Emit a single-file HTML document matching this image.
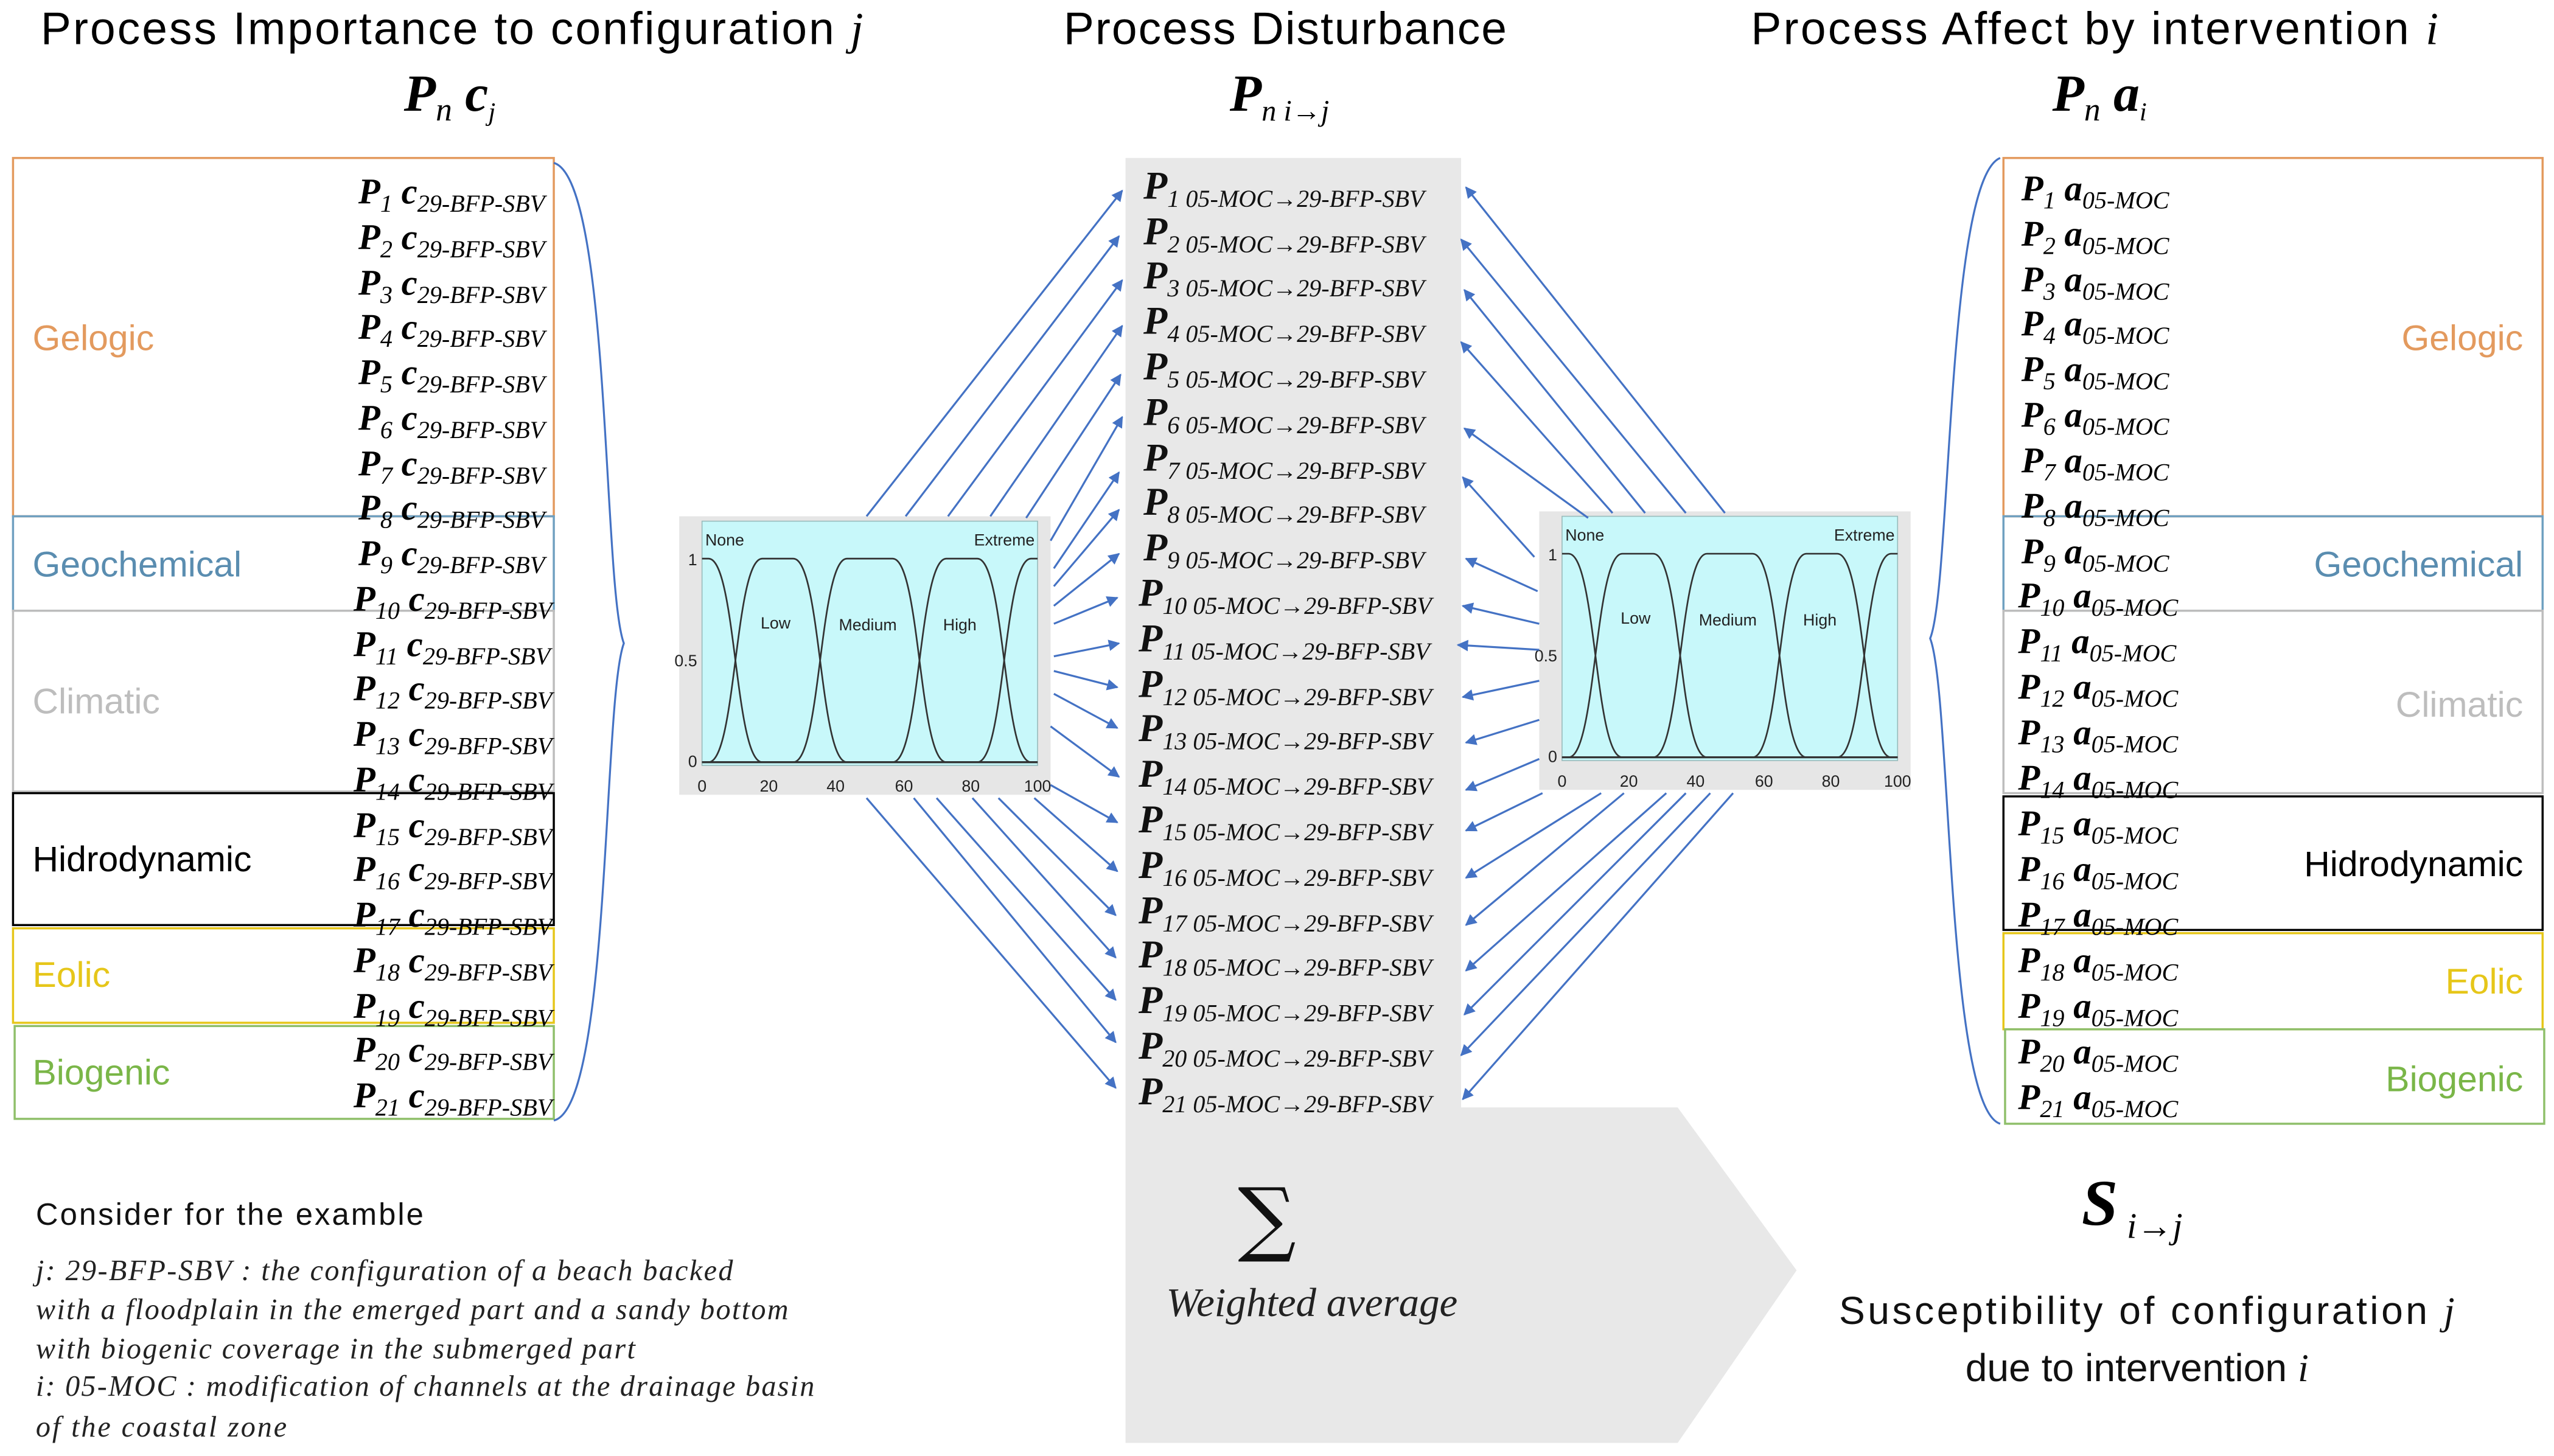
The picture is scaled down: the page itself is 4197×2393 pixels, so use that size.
<!DOCTYPE html>
<html><head><meta charset="utf-8"><style>
html,body{margin:0;padding:0;background:#fff}
svg{display:block}
.ti{font-family:"Liberation Sans",sans-serif;font-size:28px;fill:#000}
.lab{font-family:"Liberation Sans",sans-serif;font-size:22px}
.r{font-family:"Liberation Serif",serif;font-style:italic;font-weight:bold;font-size:22px;fill:#000}
.r .s{font-size:15px;font-weight:normal}
.m{font-family:"Liberation Serif",serif;font-style:italic;font-size:24px;fill:#111;font-weight:bold}
.m .s{font-size:15px;font-weight:normal}
.ck{font-family:"Liberation Sans",sans-serif;font-size:10px;fill:#222}
.ar line{stroke:#4472c4;stroke-width:1.2;marker-end:url(#ah)}
.it{font-family:"Liberation Serif",serif;font-style:italic;font-size:18px;fill:#222}
</style></head><body>
<svg width="4197" height="2393" viewBox="0 0 1568 894" xmlns="http://www.w3.org/2000/svg">
<defs>
<marker id="ah" viewBox="0 0 10 10" refX="9" refY="5" markerWidth="7" markerHeight="7" orient="auto" markerUnits="userSpaceOnUse"><path d="M0,0 L10,5 L0,10 z" fill="#4472c4"/></marker>
</defs>
<!-- titles -->
<text class="ti" x="25" y="27" textLength="505">Process Importance to configuration <tspan font-family="Liberation Serif" font-style="italic">j</tspan></text>
<text class="ti" x="653" y="27" textLength="272">Process Disturbance</text>
<text class="ti" x="1075" y="27" textLength="422">Process Affect by intervention <tspan font-family="Liberation Serif" font-style="italic">i</tspan></text>
<text class="r" x="248" y="68" style="font-size:32px">P<tspan font-size="20" font-weight="normal" dy="6">n</tspan><tspan dy="-6"> c</tspan><tspan font-size="16" font-weight="normal" dy="6">j</tspan></text>
<text class="r" x="755" y="68" style="font-size:32px">P<tspan font-size="18" font-weight="normal" dy="6">n i→j</tspan></text>
<text class="r" x="1260" y="68" style="font-size:32px">P<tspan font-size="20" font-weight="normal" dy="6">n</tspan><tspan dy="-6"> a</tspan><tspan font-size="16" font-weight="normal" dy="6">i</tspan></text>

<!-- center gray -->
<path d="M691,97 H897 V680 H1030 L1103,780 L1030,886 H691 Z" fill="#e8e8e8"/>

<!-- left boxes -->
<g fill="none" stroke-width="1.3">
<rect x="8" y="97" width="332" height="220" stroke="#e39a5e"/>
<rect x="8" y="317" width="332" height="58" stroke="#6fa0c0"/>
<rect x="8" y="375" width="332" height="111" stroke="#bdbdbd"/>
<rect x="8" y="487" width="332" height="81" stroke="#000"/>
<rect x="8" y="570" width="332" height="58" stroke="#e6c619"/>
<rect x="9" y="630" width="331" height="57" stroke="#8fbf6a"/>
<rect x="1230" y="97" width="331" height="220" stroke="#e39a5e"/>
<rect x="1230" y="317" width="331" height="58" stroke="#6fa0c0"/>
<rect x="1230" y="375" width="331" height="112" stroke="#bdbdbd"/>
<rect x="1230" y="489" width="331" height="82" stroke="#000"/>
<rect x="1230" y="573" width="331" height="59" stroke="#e6c619"/>
<rect x="1231" y="632" width="331" height="58" stroke="#8fbf6a"/>
</g>
<text class="lab" x="20" y="215" fill="#e39a5e">Gelogic</text>
<text class="lab" x="20" y="354" fill="#5a8db0">Geochemical</text>
<text class="lab" x="20" y="438" fill="#bdbdbd">Climatic</text>
<text class="lab" x="20" y="535" fill="#000">Hidrodynamic</text>
<text class="lab" x="20" y="606" fill="#e6c619">Eolic</text>
<text class="lab" x="20" y="666" fill="#7ab648">Biogenic</text>
<g class="lab" text-anchor="end">
<text x="1549" y="215" fill="#e39a5e">Gelogic</text>
<text x="1549" y="354" fill="#5a8db0">Geochemical</text>
<text x="1549" y="440" fill="#bdbdbd">Climatic</text>
<text x="1549" y="538" fill="#000">Hidrodynamic</text>
<text x="1549" y="610" fill="#e6c619">Eolic</text>
<text x="1549" y="670" fill="#7ab648">Biogenic</text>
</g>

<!-- braces -->
<path d="M340,100 C375,110 370,360 383,395 C370,430 375,680 340,688" fill="none" stroke="#4472c4" stroke-width="1.2"/>
<path d="M1228,97 C1195,110 1198,360 1185,392 C1198,425 1195,680 1228,690" fill="none" stroke="#4472c4" stroke-width="1.2"/>

<!-- left rows -->
<g class="r">
<text x="220" y="125">P<tspan class="s" dy="5">1</tspan><tspan dy="-5"> c</tspan><tspan class="s" dy="5">29-BFP-SBV</tspan></text>
<text x="220" y="153">P<tspan class="s" dy="5">2</tspan><tspan dy="-5"> c</tspan><tspan class="s" dy="5">29-BFP-SBV</tspan></text>
<text x="220" y="181">P<tspan class="s" dy="5">3</tspan><tspan dy="-5"> c</tspan><tspan class="s" dy="5">29-BFP-SBV</tspan></text>
<text x="220" y="208">P<tspan class="s" dy="5">4</tspan><tspan dy="-5"> c</tspan><tspan class="s" dy="5">29-BFP-SBV</tspan></text>
<text x="220" y="236">P<tspan class="s" dy="5">5</tspan><tspan dy="-5"> c</tspan><tspan class="s" dy="5">29-BFP-SBV</tspan></text>
<text x="220" y="264">P<tspan class="s" dy="5">6</tspan><tspan dy="-5"> c</tspan><tspan class="s" dy="5">29-BFP-SBV</tspan></text>
<text x="220" y="292">P<tspan class="s" dy="5">7</tspan><tspan dy="-5"> c</tspan><tspan class="s" dy="5">29-BFP-SBV</tspan></text>
<text x="220" y="319">P<tspan class="s" dy="5">8</tspan><tspan dy="-5"> c</tspan><tspan class="s" dy="5">29-BFP-SBV</tspan></text>
<text x="220" y="347">P<tspan class="s" dy="5">9</tspan><tspan dy="-5"> c</tspan><tspan class="s" dy="5">29-BFP-SBV</tspan></text>
<text x="217" y="375">P<tspan class="s" dy="5">10</tspan><tspan dy="-5"> c</tspan><tspan class="s" dy="5">29-BFP-SBV</tspan></text>
<text x="217" y="403">P<tspan class="s" dy="5">11</tspan><tspan dy="-5"> c</tspan><tspan class="s" dy="5">29-BFP-SBV</tspan></text>
<text x="217" y="430">P<tspan class="s" dy="5">12</tspan><tspan dy="-5"> c</tspan><tspan class="s" dy="5">29-BFP-SBV</tspan></text>
<text x="217" y="458">P<tspan class="s" dy="5">13</tspan><tspan dy="-5"> c</tspan><tspan class="s" dy="5">29-BFP-SBV</tspan></text>
<text x="217" y="486">P<tspan class="s" dy="5">14</tspan><tspan dy="-5"> c</tspan><tspan class="s" dy="5">29-BFP-SBV</tspan></text>
<text x="217" y="514">P<tspan class="s" dy="5">15</tspan><tspan dy="-5"> c</tspan><tspan class="s" dy="5">29-BFP-SBV</tspan></text>
<text x="217" y="541">P<tspan class="s" dy="5">16</tspan><tspan dy="-5"> c</tspan><tspan class="s" dy="5">29-BFP-SBV</tspan></text>
<text x="217" y="569">P<tspan class="s" dy="5">17</tspan><tspan dy="-5"> c</tspan><tspan class="s" dy="5">29-BFP-SBV</tspan></text>
<text x="217" y="597">P<tspan class="s" dy="5">18</tspan><tspan dy="-5"> c</tspan><tspan class="s" dy="5">29-BFP-SBV</tspan></text>
<text x="217" y="625">P<tspan class="s" dy="5">19</tspan><tspan dy="-5"> c</tspan><tspan class="s" dy="5">29-BFP-SBV</tspan></text>
<text x="217" y="652">P<tspan class="s" dy="5">20</tspan><tspan dy="-5"> c</tspan><tspan class="s" dy="5">29-BFP-SBV</tspan></text>
<text x="217" y="680">P<tspan class="s" dy="5">21</tspan><tspan dy="-5"> c</tspan><tspan class="s" dy="5">29-BFP-SBV</tspan></text>
</g>
<!-- right rows -->
<g class="r">
<text x="1241" y="123">P<tspan class="s" dy="5">1</tspan><tspan dy="-5"> a</tspan><tspan class="s" dy="5">05-MOC</tspan></text>
<text x="1241" y="151">P<tspan class="s" dy="5">2</tspan><tspan dy="-5"> a</tspan><tspan class="s" dy="5">05-MOC</tspan></text>
<text x="1241" y="179">P<tspan class="s" dy="5">3</tspan><tspan dy="-5"> a</tspan><tspan class="s" dy="5">05-MOC</tspan></text>
<text x="1241" y="206">P<tspan class="s" dy="5">4</tspan><tspan dy="-5"> a</tspan><tspan class="s" dy="5">05-MOC</tspan></text>
<text x="1241" y="234">P<tspan class="s" dy="5">5</tspan><tspan dy="-5"> a</tspan><tspan class="s" dy="5">05-MOC</tspan></text>
<text x="1241" y="262">P<tspan class="s" dy="5">6</tspan><tspan dy="-5"> a</tspan><tspan class="s" dy="5">05-MOC</tspan></text>
<text x="1241" y="290">P<tspan class="s" dy="5">7</tspan><tspan dy="-5"> a</tspan><tspan class="s" dy="5">05-MOC</tspan></text>
<text x="1241" y="318">P<tspan class="s" dy="5">8</tspan><tspan dy="-5"> a</tspan><tspan class="s" dy="5">05-MOC</tspan></text>
<text x="1241" y="346">P<tspan class="s" dy="5">9</tspan><tspan dy="-5"> a</tspan><tspan class="s" dy="5">05-MOC</tspan></text>
<text x="1239" y="373">P<tspan class="s" dy="5">10</tspan><tspan dy="-5"> a</tspan><tspan class="s" dy="5">05-MOC</tspan></text>
<text x="1239" y="401">P<tspan class="s" dy="5">11</tspan><tspan dy="-5"> a</tspan><tspan class="s" dy="5">05-MOC</tspan></text>
<text x="1239" y="429">P<tspan class="s" dy="5">12</tspan><tspan dy="-5"> a</tspan><tspan class="s" dy="5">05-MOC</tspan></text>
<text x="1239" y="457">P<tspan class="s" dy="5">13</tspan><tspan dy="-5"> a</tspan><tspan class="s" dy="5">05-MOC</tspan></text>
<text x="1239" y="485">P<tspan class="s" dy="5">14</tspan><tspan dy="-5"> a</tspan><tspan class="s" dy="5">05-MOC</tspan></text>
<text x="1239" y="513">P<tspan class="s" dy="5">15</tspan><tspan dy="-5"> a</tspan><tspan class="s" dy="5">05-MOC</tspan></text>
<text x="1239" y="541">P<tspan class="s" dy="5">16</tspan><tspan dy="-5"> a</tspan><tspan class="s" dy="5">05-MOC</tspan></text>
<text x="1239" y="569">P<tspan class="s" dy="5">17</tspan><tspan dy="-5"> a</tspan><tspan class="s" dy="5">05-MOC</tspan></text>
<text x="1239" y="597">P<tspan class="s" dy="5">18</tspan><tspan dy="-5"> a</tspan><tspan class="s" dy="5">05-MOC</tspan></text>
<text x="1239" y="625">P<tspan class="s" dy="5">19</tspan><tspan dy="-5"> a</tspan><tspan class="s" dy="5">05-MOC</tspan></text>
<text x="1239" y="653">P<tspan class="s" dy="5">20</tspan><tspan dy="-5"> a</tspan><tspan class="s" dy="5">05-MOC</tspan></text>
<text x="1239" y="681">P<tspan class="s" dy="5">21</tspan><tspan dy="-5"> a</tspan><tspan class="s" dy="5">05-MOC</tspan></text>
</g>
<!-- center rows -->
<g class="m">
<text x="702" y="122">P<tspan class="s" dy="5">1 05-MOC→29-BFP-SBV</tspan></text>
<text x="702" y="150">P<tspan class="s" dy="5">2 05-MOC→29-BFP-SBV</tspan></text>
<text x="702" y="177">P<tspan class="s" dy="5">3 05-MOC→29-BFP-SBV</tspan></text>
<text x="702" y="205">P<tspan class="s" dy="5">4 05-MOC→29-BFP-SBV</tspan></text>
<text x="702" y="233">P<tspan class="s" dy="5">5 05-MOC→29-BFP-SBV</tspan></text>
<text x="702" y="261">P<tspan class="s" dy="5">6 05-MOC→29-BFP-SBV</tspan></text>
<text x="702" y="289">P<tspan class="s" dy="5">7 05-MOC→29-BFP-SBV</tspan></text>
<text x="702" y="316">P<tspan class="s" dy="5">8 05-MOC→29-BFP-SBV</tspan></text>
<text x="702" y="344">P<tspan class="s" dy="5">9 05-MOC→29-BFP-SBV</tspan></text>
<text x="699" y="372">P<tspan class="s" dy="5">10 05-MOC→29-BFP-SBV</tspan></text>
<text x="699" y="400">P<tspan class="s" dy="5">11 05-MOC→29-BFP-SBV</tspan></text>
<text x="699" y="428">P<tspan class="s" dy="5">12 05-MOC→29-BFP-SBV</tspan></text>
<text x="699" y="455">P<tspan class="s" dy="5">13 05-MOC→29-BFP-SBV</tspan></text>
<text x="699" y="483">P<tspan class="s" dy="5">14 05-MOC→29-BFP-SBV</tspan></text>
<text x="699" y="511">P<tspan class="s" dy="5">15 05-MOC→29-BFP-SBV</tspan></text>
<text x="699" y="539">P<tspan class="s" dy="5">16 05-MOC→29-BFP-SBV</tspan></text>
<text x="699" y="567">P<tspan class="s" dy="5">17 05-MOC→29-BFP-SBV</tspan></text>
<text x="699" y="594">P<tspan class="s" dy="5">18 05-MOC→29-BFP-SBV</tspan></text>
<text x="699" y="622">P<tspan class="s" dy="5">19 05-MOC→29-BFP-SBV</tspan></text>
<text x="699" y="650">P<tspan class="s" dy="5">20 05-MOC→29-BFP-SBV</tspan></text>
<text x="699" y="678">P<tspan class="s" dy="5">21 05-MOC→29-BFP-SBV</tspan></text>
</g>

<!-- charts -->
<g id="chart">
<rect x="417" y="317" width="228" height="171" fill="#e6e6e6"/>
<rect x="431" y="320" width="206" height="150" fill="#c8f8fa" stroke="#9bb" stroke-width="0.6"/>
<line x1="431" y1="468" x2="637" y2="468" stroke="#222" stroke-width="1.2"/>
<g fill="none" stroke="#333" stroke-width="1">
<path d="M431,343 L435,343 C452,343 451,468 468,468 L637,468"/>
<path d="M431,468 L435,468 C452,468 451,343 468,343 L487,343 C504,343 503,468 520,468 L637,468"/>
<path d="M431,468 L487,468 C504,468 503,343 520,343 L548,343 C565,343 564,468 581,468 L637,468"/>
<path d="M431,468 L548,468 C565,468 564,343 581,343 L600,343 C617,343 616,468 633,468 L637,468"/>
<path d="M431,468 L600,468 C617,468 616,343 633,343 L637,343"/>
</g>
<text class="ck" x="433" y="335">None</text>
<text class="ck" x="598" y="335">Extreme</text>
<text class="ck" x="467" y="386">Low</text>
<text class="ck" x="515" y="387">Medium</text>
<text class="ck" x="579" y="387">High</text>
<g class="ck" font-size="8" text-anchor="end">
<text x="428" y="347">1</text><text x="428" y="409">0.5</text><text x="428" y="471">0</text>
</g>
<g class="ck" font-size="8" text-anchor="middle">
<text x="431" y="486">0</text><text x="472" y="486">20</text><text x="513" y="486">40</text><text x="555" y="486">60</text><text x="596" y="486">80</text><text x="637" y="486">100</text>
</g>
</g>
<use href="#chart" transform="translate(528,-3)"/>

<!-- arrows left -->
<g class="ar">
<line x1="532" y1="317" x2="689" y2="117"/>
<line x1="556" y1="317" x2="687" y2="145"/>
<line x1="582" y1="317" x2="689" y2="172"/>
<line x1="608" y1="317" x2="689" y2="200"/>
<line x1="630" y1="318" x2="688" y2="230"/>
<line x1="645" y1="332" x2="689" y2="256"/>
<line x1="647" y1="349" x2="687" y2="290"/>
<line x1="647" y1="360" x2="687" y2="313"/>
<line x1="647" y1="372" x2="687" y2="340"/>
<line x1="647" y1="383" x2="686" y2="367"/>
<line x1="647" y1="403" x2="687" y2="395"/>
<line x1="647" y1="412" x2="686" y2="422"/>
<line x1="647" y1="426" x2="686" y2="447"/>
<line x1="645" y1="446" x2="687" y2="477"/>
<line x1="645" y1="482" x2="686" y2="505"/>
<line x1="635" y1="490" x2="686" y2="535"/>
<line x1="613" y1="490" x2="685" y2="562"/>
<line x1="597" y1="490" x2="685" y2="588"/>
<line x1="575" y1="490" x2="685" y2="614"/>
<line x1="561" y1="490" x2="685" y2="640"/>
<line x1="532" y1="490" x2="685" y2="668"/>
</g>
<!-- arrows right -->
<g class="ar">
<line x1="1059" y1="315" x2="900" y2="115"/>
<line x1="1035" y1="315" x2="897" y2="147"/>
<line x1="1010" y1="315" x2="899" y2="178"/>
<line x1="990" y1="315" x2="897" y2="210"/>
<line x1="975" y1="318" x2="899" y2="263"/>
<line x1="942" y1="342" x2="898" y2="293"/>
<line x1="944" y1="363" x2="900" y2="343"/>
<line x1="945" y1="383" x2="898" y2="372"/>
<line x1="945" y1="399" x2="895" y2="396"/>
<line x1="945" y1="418" x2="898" y2="428"/>
<line x1="945" y1="442" x2="900" y2="456"/>
<line x1="945" y1="466" x2="900" y2="485"/>
<line x1="947" y1="487" x2="900" y2="510"/>
<line x1="983" y1="487" x2="900" y2="539"/>
<line x1="997" y1="487" x2="900" y2="568"/>
<line x1="1023" y1="487" x2="900" y2="596"/>
<line x1="1035" y1="487" x2="899" y2="623"/>
<line x1="1050" y1="487" x2="897" y2="648"/>
<line x1="1064" y1="487" x2="898" y2="675"/>
</g>

<!-- bottom -->
<text x="760" y="765" font-family="DejaVu Serif,serif" font-size="50" fill="#111">∑</text>
<text x="716" y="808" font-family="Liberation Serif,serif" font-style="italic" font-size="25" fill="#222">Weighted average</text>
<text class="r" x="1278" y="752" style="font-size:40px">S<tspan font-size="22" font-weight="normal" dy="8"> i→j</tspan></text>
<text x="1318" y="813" font-family="Liberation Sans,sans-serif" font-size="24" text-anchor="middle" fill="#111" textLength="378">Susceptibility of configuration <tspan font-family="Liberation Serif" font-style="italic">j</tspan></text>
<text x="1312" y="848" font-family="Liberation Sans,sans-serif" font-size="24" text-anchor="middle" fill="#111">due to intervention <tspan font-family="Liberation Serif" font-style="italic">i</tspan></text>

<text x="22" y="752" font-family="Liberation Sans,sans-serif" font-size="19" fill="#111" textLength="238">Consider for the examble</text>
<text class="it" x="22" y="786" textLength="428">j: 29-BFP-SBV : the configuration of a beach backed</text>
<text class="it" x="22" y="810" textLength="462">with a floodplain in the emerged part and a sandy bottom</text>
<text class="it" x="22" y="834" textLength="368">with biogenic coverage in the submerged part</text>
<text class="it" x="22" y="857" textLength="478">i: 05-MOC : modification of channels at the drainage basin</text>
<text class="it" x="22" y="882" textLength="154">of the coastal zone</text>
</svg>
</body></html>
